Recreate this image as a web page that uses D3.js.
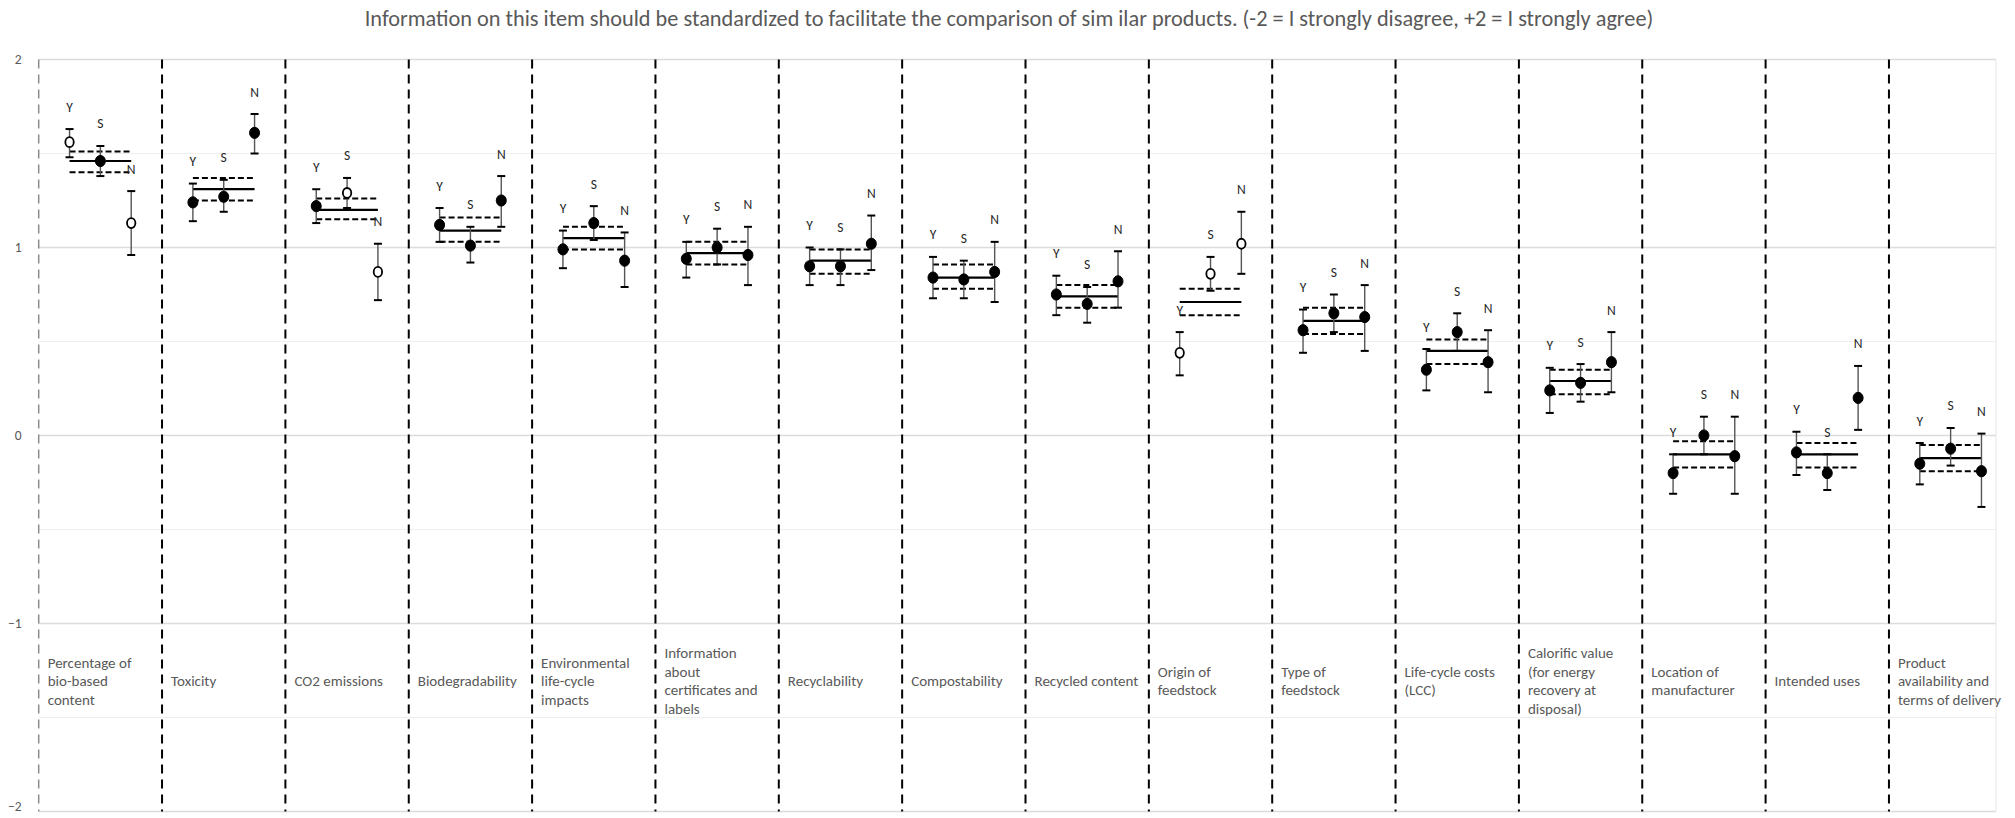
<!DOCTYPE html>
<html>
<head>
<meta charset="utf-8">
<script src="https://cdn.jsdelivr.net/npm/d3@7"></script>
<style>
  html, body { margin: 0; padding: 0; background: #ffffff; }
  svg { display: block; font-family: Carlito, Calibri, Lato, "Open Sans", sans-serif; }
</style>
</head>
<body>
<svg id="chart" width="2015" height="818"></svg>
<script>
// ---------- DATA ----------
const titleText = "Information on this item should be standardized to facilitate the comparison of sim ilar products. (-2 = I strongly disagree, +2 = I strongly agree)";

const categories = [
  ["Percentage of", "bio-based", "content"],
  ["Toxicity"],
  ["CO2 emissions"],
  ["Biodegradability"],
  ["Environmental", "life-cycle", "impacts"],
  ["Information", "about", "certificates and", "labels"],
  ["Recyclability"],
  ["Compostability"],
  ["Recycled content"],
  ["Origin of", "feedstock"],
  ["Type of", "feedstock"],
  ["Life-cycle costs", "(LCC)"],
  ["Calorific value", "(for energy", "recovery at", "disposal)"],
  ["Location of", "manufacturer"],
  ["Intended uses"],
  ["Product", "availability and", "terms of delivery"]
];

const groupNames = ["Y", "S", "N"];

// Group means and confidence interval ends
const yMean = [1.56, 1.24, 1.22, 1.12, 0.99, 0.94, 0.90, 0.84, 0.75, 0.44, 0.56, 0.35, 0.24, -0.20, -0.09, -0.15];
const yLow  = [1.48, 1.14, 1.13, 1.03, 0.89, 0.84, 0.80, 0.73, 0.64, 0.32, 0.44, 0.24, 0.12, -0.31, -0.21, -0.26];
const yHigh = [1.63, 1.34, 1.31, 1.21, 1.09, 1.03, 1.00, 0.95, 0.85, 0.55, 0.67, 0.46, 0.36, -0.10, 0.02, -0.04];

const sMean = [1.46, 1.27, 1.29, 1.01, 1.13, 1.00, 0.90, 0.83, 0.70, 0.86, 0.65, 0.55, 0.28, 0.00, -0.20, -0.07];
const sLow  = [1.38, 1.19, 1.21, 0.92, 1.04, 0.91, 0.80, 0.73, 0.60, 0.77, 0.55, 0.45, 0.18, -0.10, -0.29, -0.16];
const sHigh = [1.54, 1.36, 1.37, 1.11, 1.22, 1.10, 0.99, 0.93, 0.79, 0.95, 0.75, 0.65, 0.38, 0.10, -0.10, 0.04];

const nMean = [1.13, 1.61, 0.87, 1.25, 0.93, 0.96, 1.02, 0.87, 0.82, 1.02, 0.63, 0.39, 0.39, -0.11, 0.20, -0.19];
const nLow  = [0.96, 1.50, 0.72, 1.11, 0.79, 0.80, 0.88, 0.71, 0.68, 0.86, 0.45, 0.23, 0.23, -0.31, 0.03, -0.38];
const nHigh = [1.30, 1.71, 1.02, 1.38, 1.08, 1.11, 1.17, 1.03, 0.98, 1.19, 0.80, 0.56, 0.55, 0.10, 0.37, 0.01];

// Overall mean and its confidence band
const allMean  = [1.46, 1.31, 1.20, 1.09, 1.05, 0.97, 0.93, 0.84, 0.74, 0.71, 0.61, 0.45, 0.29, -0.10, -0.10, -0.12];
const allLow   = [1.40, 1.25, 1.15, 1.03, 0.99, 0.91, 0.86, 0.78, 0.68, 0.64, 0.54, 0.38, 0.22, -0.17, -0.17, -0.19];
const allHigh  = [1.51, 1.37, 1.26, 1.16, 1.11, 1.03, 0.99, 0.91, 0.80, 0.78, 0.68, 0.51, 0.35, -0.03, -0.04, -0.05];

// Categories whose marker is drawn hollow, per group
const yOpen = [0, 9];
const sOpen = [2, 9];
const nOpen = [0, 2, 9];

const yTicks = [-2, -1, 0, 1, 2];
const yHalfTicks = [-1.5, -0.5, 0.5, 1.5];

// ---------- BUILD ----------
const groups = [
  { name: groupNames[0], mean: yMean, low: yLow, high: yHigh, open: yOpen, off: 0.25 },
  { name: groupNames[1], mean: sMean, low: sLow, high: sHigh, open: sOpen, off: 0.50 },
  { name: groupNames[2], mean: nMean, low: nLow, high: nHigh, open: nOpen, off: 0.75 }
];

const points = [];
groups.forEach(g => {
  categories.forEach((c, i) => {
    points.push({ i, name: g.name, off: g.off, v: g.mean[i], lo: g.low[i], hi: g.high[i], open: g.open.includes(i) });
  });
});

const svg = d3.select("#chart");
const plotLeft = 38.7, plotRight = 1996, catW = 123.35;
const x = d3.scaleLinear().domain([0, (plotRight - plotLeft) / catW]).range([plotLeft, plotRight]);
const y = d3.scaleLinear().domain([-2, 2]).range([811.5, 59.5]);

// title
svg.append("text")
  .attr("x", 1009).attr("y", 26)
  .attr("text-anchor", "middle")
  .attr("fill", "#595959")
  .style("font-size", "22.3px")
  .text(titleText);

// gridlines
svg.append("g").selectAll("line").data(yHalfTicks).join("line")
  .attr("x1", plotLeft).attr("x2", plotRight)
  .attr("y1", d => y(d)).attr("y2", d => y(d))
  .attr("stroke", "#efefef").attr("stroke-width", 1.2);
svg.append("g").selectAll("line").data(yTicks).join("line")
  .attr("x1", plotLeft).attr("x2", plotRight)
  .attr("y1", d => y(d)).attr("y2", d => y(d))
  .attr("stroke", "#dcdcdc").attr("stroke-width", 1.6);

// right border of plot
svg.append("line")
  .attr("x1", plotRight).attr("x2", plotRight)
  .attr("y1", y(2)).attr("y2", y(-2))
  .attr("stroke", "#e6e6e6").attr("stroke-width", 1);

// y axis labels
const yAxis = d3.axisLeft(y).tickValues(yTicks).tickSize(0).tickPadding(17).tickFormat(d3.format("d"));
const ax = svg.append("g").attr("transform", `translate(${plotLeft},0)`).call(yAxis);
ax.select(".domain").remove();
ax.selectAll("text").attr("fill", "#595959").style("font-size", "13.5px")
  .style("font-family", "Carlito, Calibri, Lato, sans-serif");
// keep the lowest label inside the canvas
ax.selectAll(".tick").filter(d => d === -2).select("text").attr("dy", "-0.05em");

// vertical separators
const seps = d3.range(categories.length);
svg.append("g").selectAll("line").data(seps).join("line")
  .attr("x1", d => x(d)).attr("x2", d => x(d))
  .attr("y1", y(2)).attr("y2", y(-2))
  .attr("stroke", d => d === 0 ? "#8c8c8c" : "#000")
  .attr("stroke-width", d => d === 0 ? 1.5 : 2)
  .attr("stroke-dasharray", "9,6");

// category labels
const lineH = 18.5, labelCenter = 681;
const lab = svg.append("g").selectAll("text").data(categories).join("text")
  .attr("x", (d, i) => x(i) + 9)
  .attr("fill", "#595959")
  .style("font-size", "15px");
lab.each(function(lines) {
  const t = d3.select(this);
  const first = labelCenter - (lines.length - 1) * lineH / 2;
  lines.forEach((ln, k) => {
    t.append("tspan").attr("x", t.attr("x")).attr("y", first + k * lineH)
      .attr("dominant-baseline", "central").text(ln);
  });
});

// overall mean and band
const band = svg.append("g");
categories.forEach((c, i) => {
  const x1 = x(i + 0.25), x2 = x(i + 0.75);
  band.append("line").attr("x1", x1).attr("x2", x2)
    .attr("y1", y(allHigh[i])).attr("y2", y(allHigh[i]))
    .attr("stroke", "#000").attr("stroke-width", 2).attr("stroke-dasharray", "6,3");
  band.append("line").attr("x1", x1).attr("x2", x2)
    .attr("y1", y(allLow[i])).attr("y2", y(allLow[i]))
    .attr("stroke", "#000").attr("stroke-width", 2).attr("stroke-dasharray", "6,3");
  band.append("line").attr("x1", x1).attr("x2", x2)
    .attr("y1", y(allMean[i])).attr("y2", y(allMean[i]))
    .attr("stroke", "#000").attr("stroke-width", 2.2);
});

// error bars
const eb = svg.append("g");
eb.selectAll("line.v").data(points).join("line").attr("class", "v")
  .attr("x1", d => x(d.i + d.off)).attr("x2", d => x(d.i + d.off))
  .attr("y1", d => y(d.lo)).attr("y2", d => y(d.hi))
  .attr("stroke", "#555").attr("stroke-width", 1.4);
eb.selectAll("line.ct").data(points).join("line").attr("class", "ct")
  .attr("x1", d => x(d.i + d.off) - 4).attr("x2", d => x(d.i + d.off) + 4)
  .attr("y1", d => y(d.hi)).attr("y2", d => y(d.hi))
  .attr("stroke", "#000").attr("stroke-width", 2);
eb.selectAll("line.cb").data(points).join("line").attr("class", "cb")
  .attr("x1", d => x(d.i + d.off) - 4).attr("x2", d => x(d.i + d.off) + 4)
  .attr("y1", d => y(d.lo)).attr("y2", d => y(d.lo))
  .attr("stroke", "#000").attr("stroke-width", 2);

// markers
svg.append("g").selectAll("ellipse").data(points).join("ellipse")
  .attr("cx", d => x(d.i + d.off)).attr("cy", d => y(d.v))
  .attr("rx", d => d.open ? 4.2 : 5).attr("ry", d => d.open ? 5 : 5.6)
  .attr("fill", d => d.open ? "#fff" : "#000")
  .attr("stroke", "#000").attr("stroke-width", d => d.open ? 1.8 : 1);

// group labels
svg.append("g").selectAll("text").data(points).join("text")
  .attr("x", d => x(d.i + d.off)).attr("y", d => y(d.hi) - 22)
  .attr("text-anchor", "middle").attr("dominant-baseline", "central")
  .attr("fill", "#262626").style("font-size", "13.5px")
  .text(d => d.name);
</script>
</body>
</html>
